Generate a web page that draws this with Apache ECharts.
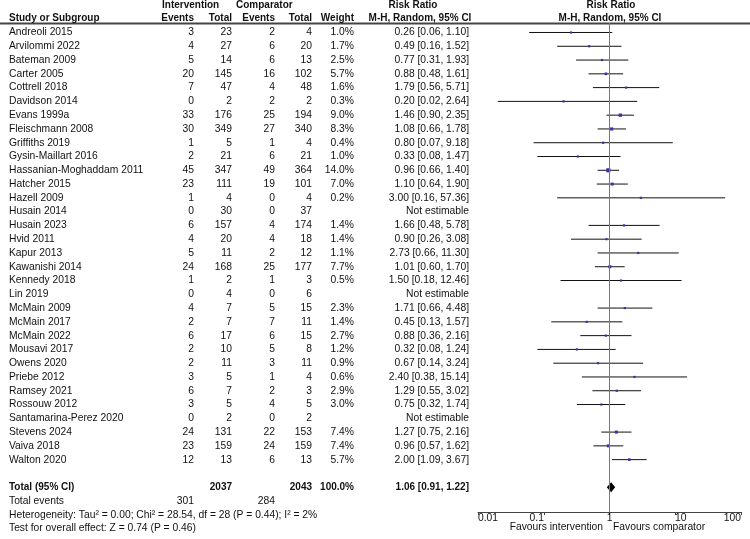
<!DOCTYPE html>
<html>
<head>
<meta charset="utf-8">
<script src="https://cdn.jsdelivr.net/npm/echarts@6/dist/echarts.min.js"></script>
<style>
    html, body { margin: 0; padding: 0; background: #fff; }
    #chart { width: 750px; height: 539px; }
</style>
</head>
<body>
<div id="chart"></div>
<script>
const studies = [
    "Andreoli 2015", "Arvilommi 2022", "Bateman 2009", "Carter 2005", "Cottrell 2018",
    "Davidson 2014", "Evans 1999a", "Fleischmann 2008", "Griffiths 2019", "Gysin-Maillart 2016",
    "Hassanian-Moghaddam 2011", "Hatcher 2015", "Hazell 2009", "Husain 2014", "Husain 2023",
    "Hvid 2011", "Kapur 2013", "Kawanishi 2014", "Kennedy 2018", "Lin 2019",
    "McMain 2009", "McMain 2017", "McMain 2022", "Mousavi 2017", "Owens 2020",
    "Priebe 2012", "Ramsey 2021", "Rossouw 2012", "Santamarina-Perez 2020", "Stevens 2024",
    "Vaiva 2018", "Walton 2020"
];
const intEvents = [3, 4, 5, 20, 7, 0, 33, 30, 1, 2, 45, 23, 1, 0, 6, 4, 5, 24, 1, 0, 4, 2, 6, 2, 2, 3, 6, 3, 0, 24, 23, 12];
const intTotal = [23, 27, 14, 145, 47, 2, 176, 349, 5, 21, 347, 111, 4, 30, 157, 20, 11, 168, 2, 4, 7, 7, 17, 10, 11, 5, 7, 5, 2, 131, 159, 13];
const compEvents = [2, 6, 6, 16, 4, 2, 25, 27, 1, 6, 49, 19, 0, 0, 4, 4, 2, 25, 1, 0, 5, 7, 6, 5, 3, 1, 2, 4, 0, 22, 24, 6];
const compTotal = [4, 20, 13, 102, 48, 2, 194, 340, 4, 21, 364, 101, 4, 37, 174, 18, 12, 177, 3, 6, 15, 11, 15, 8, 11, 4, 3, 5, 2, 153, 159, 13];
const weights = [1.0, 1.7, 2.5, 5.7, 1.6, 0.3, 9.0, 8.3, 0.4, 1.0, 14.0, 7.0, 0.2, null, 1.4, 1.4, 1.1, 7.7, 0.5, null, 2.3, 1.4, 2.7, 1.2, 0.9, 0.6, 2.9, 3.0, null, 7.4, 7.4, 5.7];
const riskRatio = [0.26, 0.49, 0.77, 0.88, 1.79, 0.20, 1.46, 1.08, 0.80, 0.33, 0.96, 1.10, 3.00, null, 1.66, 0.90, 2.73, 1.01, 1.50, null, 1.71, 0.45, 0.88, 0.32, 0.67, 2.40, 1.29, 0.75, null, 1.27, 0.96, 2.00];
const ciLow = [0.06, 0.16, 0.31, 0.48, 0.56, 0.02, 0.90, 0.66, 0.07, 0.08, 0.66, 0.64, 0.16, null, 0.48, 0.26, 0.66, 0.60, 0.18, null, 0.66, 0.13, 0.36, 0.08, 0.14, 0.38, 0.55, 0.32, null, 0.75, 0.57, 1.09];
const ciHigh = [1.10, 1.52, 1.93, 1.61, 5.71, 2.64, 2.35, 1.78, 9.18, 1.47, 1.40, 1.90, 57.36, null, 5.78, 3.08, 11.30, 1.70, 12.46, null, 4.48, 1.57, 2.16, 1.24, 3.24, 15.14, 3.02, 1.74, null, 2.16, 1.62, 3.67];

const totalPatients = [2037, 2043];
const totalEvents = [301, 284];
const pooled = [1.06, 0.91, 1.22];
const tickLabels = ["0.01", "0.1", "1", "10", "100"];

const FONT = "'Liberation Sans', Arial, sans-serif";
const TEXT = "#111";
const fmt = v => v.toFixed(2);

// column anchors (px) for the table part
const COL = { study: 9, ie: 194, it: 232, ce: 275, ct: 312, w: 354, rr: 469 };
const TOTAL_ROW = studies.length + 1;

const cells = [];
function cell(x, row, text, align, bold) {
    cells.push({ x: x, row: row, text: String(text), align: align || "right", bold: !!bold });
}

// header
cell(162, -2, "Intervention", "left", true);
cell(236, -2, "Comparator", "left", true);
cell(413, -2, "Risk Ratio", "center", true);
cell(COL.study, -1, "Study or Subgroup", "left", true);
cell(COL.ie, -1, "Events", "right", true);
cell(COL.it, -1, "Total", "right", true);
cell(COL.ce, -1, "Events", "right", true);
cell(COL.ct, -1, "Total", "right", true);
cell(COL.w, -1, "Weight", "right", true);
cell(420, -1, "M-H, Random, 95% CI", "center", true);
cell(611, -2, "Risk Ratio", "center", true);
cell(610, -1, "M-H, Random, 95% CI", "center", true);

studies.forEach((name, i) => {
    cell(COL.study, i, name, "left");
    cell(COL.ie, i, intEvents[i]);
    cell(COL.it, i, intTotal[i]);
    cell(COL.ce, i, compEvents[i]);
    cell(COL.ct, i, compTotal[i]);
    if (weights[i] !== null) {
        cell(COL.w, i, weights[i].toFixed(1) + "%");
        cell(COL.rr, i, `${fmt(riskRatio[i])} [${fmt(ciLow[i])}, ${fmt(ciHigh[i])}]`);
    } else {
        cell(COL.rr, i, "Not estimable");
    }
});

cell(COL.study, TOTAL_ROW, "Total (95% CI)", "left", true);
cell(COL.it, TOTAL_ROW, totalPatients[0], "right", true);
cell(COL.ct, TOTAL_ROW, totalPatients[1], "right", true);
cell(COL.w, TOTAL_ROW, "100.0%", "right", true);
cell(COL.rr, TOTAL_ROW, `${fmt(pooled[0])} [${fmt(pooled[1])}, ${fmt(pooled[2])}]`, "right", true);
cell(COL.study, TOTAL_ROW + 1, "Total events", "left");
cell(COL.ie, TOTAL_ROW + 1, totalEvents[0]);
cell(COL.ce, TOTAL_ROW + 1, totalEvents[1]);
cell(COL.study, TOTAL_ROW + 2, "Heterogeneity: Tau² = 0.00; Chi² = 28.54, df = 28 (P = 0.44); I² = 2%", "left");
cell(COL.study, TOTAL_ROW + 3, "Test for overall effect: Z = 0.74 (P = 0.46)", "left");

const forestData = [];
studies.forEach((name, i) => {
    if (riskRatio[i] !== null) {
        forestData.push([riskRatio[i], i, ciLow[i], ciHigh[i], weights[i]]);
    }
});

// tick labels sit a little off their ticks in the original
const tickRich = {
    t0: { fontFamily: FONT, fontSize: 10.3, color: TEXT },
    t1: { fontFamily: FONT, fontSize: 10.3, color: TEXT, padding: [0, 14, 0, 0] },
    t2: { fontFamily: FONT, fontSize: 10.3, color: TEXT },
    t3: { fontFamily: FONT, fontSize: 10.3, color: TEXT, padding: [0, 0, 0, 11] },
    t4: { fontFamily: FONT, fontSize: 10.3, color: TEXT }
};

const chart = echarts.init(document.getElementById("chart"));
chart.setOption({
    animation: false,
    backgroundColor: "#fff",
    grid: [
        // rows -2..36, 13.78px per row
        { left: 0, width: 750, top: 4.94, bottom: 10.4 },
        { left: 478, right: 9, top: 23, bottom: 27 }
    ],
    xAxis: [
        { gridIndex: 0, type: "value", min: 0, max: 750, show: false },
        {
            gridIndex: 1,
            type: "log",
            logBase: 10,
            min: 0.01,
            max: 100,
            position: "bottom",
            axisLine: { onZero: false, lineStyle: { color: "#444", width: 1 } },
            axisTick: { show: true, length: 3, lineStyle: { color: "#444" } },
            splitLine: { show: false },
            minorTick: { show: false },
            axisLabel: {
                margin: 1.5,
                fontFamily: FONT,
                fontSize: 10.3,
                color: TEXT,
                alignMinLabel: "left",
                alignMaxLabel: "right",
                rich: tickRich,
                formatter: v => {
                    const k = Math.round(Math.log10(v)) + 2;
                    return `{t${k}|${tickLabels[k]}}`;
                }
            }
        }
    ],
    yAxis: [
        { gridIndex: 0, type: "value", min: -2, max: 36, inverse: true, show: false },
        { gridIndex: 1, type: "value", min: -0.689, max: 34.80, inverse: true, show: false }
    ],
    graphic: [
        {
            type: "line",
            shape: { x1: 0, y1: 23.5, x2: 750, y2: 23.5 },
            style: { stroke: "#444", lineWidth: 2 }
        },
        {
            type: "text",
            x: 603, y: 527,
            style: { text: "Favours intervention", font: `10.3px ${FONT}`, fill: TEXT, align: "right", verticalAlign: "middle" }
        },
        {
            type: "text",
            x: 613, y: 527,
            style: { text: "Favours comparator", font: `10.3px ${FONT}`, fill: TEXT, align: "left", verticalAlign: "middle" }
        }
    ],
    series: [
        {
            type: "custom",
            name: "table",
            xAxisIndex: 0,
            yAxisIndex: 0,
            silent: true,
            data: cells.map(c => [c.x, c.row]),
            renderItem: function (params, api) {
                const c = cells[params.dataIndex];
                const p = api.coord([api.value(0), api.value(1)]);
                return {
                    type: "text",
                    x: p[0],
                    y: p[1],
                    style: {
                        text: c.text,
                        font: `${c.bold ? "bold 10px" : "10.3px"} ${FONT}`,
                        fill: TEXT,
                        align: c.align,
                        verticalAlign: "middle"
                    }
                };
            }
        },
        {
            type: "custom",
            name: "studies",
            xAxisIndex: 1,
            yAxisIndex: 1,
            silent: true,
            data: forestData,
            renderItem: function (params, api) {
                const row = api.value(1);
                const mid = api.coord([api.value(0), row]);
                const lo = api.coord([api.value(2), row]);
                const hi = api.coord([api.value(3), row]);
                const size = Math.max(2.2, Math.sqrt(api.value(4)) * 1.1);
                return {
                    type: "group",
                    children: [
                        {
                            type: "line",
                            shape: { x1: lo[0], y1: mid[1], x2: hi[0], y2: mid[1] },
                            style: { stroke: "#111", lineWidth: 1 }
                        },
                        {
                            type: "rect",
                            shape: { x: mid[0] - size / 2, y: mid[1] - size / 2, width: size, height: size },
                            style: { fill: "#3b2fa6" }
                        }
                    ]
                };
            },
            markLine: {
                silent: true,
                symbol: "none",
                label: { show: false },
                lineStyle: { color: "#777", width: 1, type: "solid" },
                data: [{ xAxis: 1 }]
            }
        },
        {
            type: "custom",
            name: "pooled",
            xAxisIndex: 1,
            yAxisIndex: 1,
            silent: true,
            data: [[pooled[0], TOTAL_ROW, pooled[1], pooled[2]]],
            renderItem: function (params, api) {
                const row = api.value(1);
                const mid = api.coord([api.value(0), row]);
                const lo = api.coord([api.value(2), row]);
                const hi = api.coord([api.value(3), row]);
                return {
                    type: "polygon",
                    shape: {
                        points: [[lo[0], mid[1]], [mid[0], mid[1] - 5], [hi[0], mid[1]], [mid[0], mid[1] + 5]]
                    },
                    style: { fill: "#000" }
                };
            }
        }
    ]
});
</script>
</body>
</html>
